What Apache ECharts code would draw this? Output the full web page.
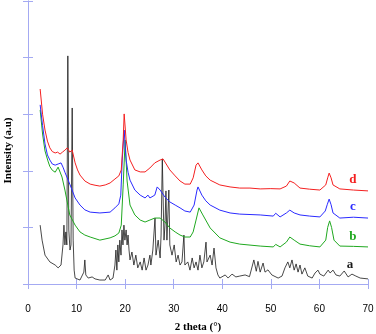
<!DOCTYPE html>
<html>
<head>
<meta charset="utf-8">
<script src="https://cdn.jsdelivr.net/npm/echarts@6/dist/echarts.min.js"></script>
<style>
  html, body { margin: 0; padding: 0; background: #fff; }
  #chart { width: 376px; height: 334px; }
</style>
</head>
<body>
<div id="chart"></div>
<script>
// XRD patterns, [2 theta, intensity (a.u.)]
var curveD = [[2.5,68.9],[3.0,60.0],[3.5,54.4],[4.0,50.5],[4.5,48.1],[5.0,46.8],[5.6,46.3],[6.1,46.6],[6.6,45.9],[7.1,46.6],[7.6,47.3],[8.1,48.1],[8.6,46.6],[9.1,47.3],[9.7,42.8],[10.2,40.3],[10.7,38.5],[11.7,36.4],[12.8,35.3],[13.8,34.9],[14.8,34.6],[15.9,35.0],[16.9,35.7],[17.9,37.1],[18.7,38.2],[19.2,40.3],[19.6,50.9],[19.8,60.1],[20.2,50.9],[20.6,46.5],[21.0,43.8],[22.0,40.3],[23.1,39.6],[24.1,39.6],[25.1,41.0],[26.1,42.8],[27.2,43.8],[27.8,44.2],[28.2,43.1],[29.2,40.3],[30.3,38.2],[31.3,36.4],[32.3,35.3],[33.4,35.3],[34.0,37.5],[34.6,42.0],[35.0,42.8],[35.8,40.3],[36.6,38.2],[37.5,36.7],[39.5,35.0],[41.6,34.3],[43.6,33.9],[45.7,33.9],[47.8,33.6],[50.0,33.7],[51.9,33.6],[53.2,34.6],[53.9,36.4],[54.8,35.7],[56.0,33.9],[58.0,33.5],[60.1,33.2],[61.3,35.0],[61.7,37.5],[62.0,39.2],[62.4,37.5],[62.8,35.0],[64.2,33.6],[67.0,33.2],[70.0,32.9]];

var curveC = [[2.5,63.3],[3.0,56.0],[3.5,49.5],[4.0,45.6],[4.5,43.8],[5.0,42.4],[5.6,42.0],[6.2,42.4],[6.8,42.8],[7.2,41.3],[7.6,39.5],[8.6,35.3],[9.7,30.4],[10.7,27.9],[11.7,26.2],[12.8,25.4],[14.8,25.1],[16.9,25.4],[17.9,26.9],[18.7,28.3],[19.1,31.4],[19.4,43.8],[19.8,54.4],[20.2,43.8],[20.6,39.5],[21.0,36.7],[22.0,33.2],[23.1,31.4],[24.1,30.4],[24.7,31.4],[25.1,30.4],[26.1,31.4],[26.6,34.3],[27.2,33.2],[28.2,30.7],[29.2,29.0],[30.3,27.9],[31.3,26.9],[32.3,25.8],[33.4,25.4],[34.2,27.9],[34.8,33.2],[35.0,34.3],[35.8,31.4],[36.6,29.4],[37.5,27.9],[39.5,26.1],[41.6,25.1],[43.6,24.7],[47.8,24.4],[50.5,24.0],[51.0,25.0],[51.9,23.7],[53.2,25.1],[53.9,26.1],[54.8,25.1],[56.0,24.4],[58.0,24.0],[60.1,23.7],[61.2,25.8],[61.6,28.0],[62.0,30.0],[62.4,28.0],[62.8,25.1],[64.2,23.3],[67.0,23.6],[70.0,23.3]];

var curveB = [[2.5,61.5],[3.0,53.0],[3.5,47.0],[4.1,43.5],[4.5,41.5],[5.0,40.2],[5.6,39.5],[6.2,41.3],[6.6,40.6],[7.0,37.8],[7.6,33.2],[8.2,27.9],[8.6,24.4],[9.7,20.8],[10.7,18.4],[11.7,17.3],[12.8,16.6],[14.8,15.5],[16.9,16.3],[17.9,17.0],[18.7,18.0],[19.2,20.8],[19.6,35.0],[20.0,50.9],[20.4,36.4],[21.0,27.9],[22.0,24.4],[23.1,22.6],[24.1,21.9],[25.1,22.6],[26.1,23.3],[27.2,23.3],[28.2,21.9],[29.2,19.8],[30.3,18.4],[31.3,17.3],[32.3,16.6],[33.4,16.6],[34.0,18.4],[34.6,22.6],[35.2,26.9],[36.0,24.4],[37.5,19.8],[39.5,16.3],[41.6,14.8],[43.6,14.1],[47.8,13.4],[50.5,13.1],[51.0,14.0],[51.9,13.1],[53.2,14.8],[53.9,16.6],[54.8,15.5],[56.0,14.1],[58.0,13.5],[60.1,13.1],[61.3,15.5],[61.7,20.0],[62.1,22.3],[62.5,20.0],[63.0,15.5],[64.2,13.4],[67.0,13.3],[70.0,13.1]];

var curveA = [[2.5,20.8],[2.9,15.5],[3.5,10.2],[4.5,7.8],[5.6,6.7],[6.2,5.7],[6.8,6.7],[7.2,13.8],[7.4,20.8],[7.6,13.8],[7.8,18.4],[8.0,13.8],[8.2,80.6],[8.4,19.1],[8.65,12.0],[8.85,13.8],[9.1,62.2],[9.3,15.5],[9.5,4.9],[9.7,2.1],[10.7,1.4],[11.5,4.2],[11.7,8.5],[11.9,3.2],[12.4,2.1],[13.2,2.5],[13.8,1.8],[14.8,1.4],[15.9,1.4],[16.5,3.2],[16.9,1.4],[17.5,2.1],[17.9,6.7],[18.1,12.0],[18.3,4.9],[18.5,13.8],[18.7,7.8],[18.9,15.5],[19.15,10.2],[19.35,19.1],[19.55,13.8],[19.75,20.8],[19.95,15.5],[20.2,19.1],[20.4,13.8],[20.6,17.3],[20.8,12.0],[21.0,8.5],[21.4,11.3],[21.8,6.7],[22.2,10.2],[22.6,5.7],[23.1,7.8],[23.5,4.9],[23.9,9.2],[24.3,4.9],[24.7,6.7],[25.1,10.2],[25.3,6.7],[25.7,12.0],[26.15,23.3],[26.35,10.2],[26.8,15.5],[27.2,9.2],[27.4,17.3],[27.65,44.2],[28.0,15.5],[28.2,20.8],[28.4,32.9],[28.6,15.5],[28.8,24.4],[29.0,33.2],[29.2,13.8],[29.65,10.2],[30.1,13.8],[30.5,7.8],[30.9,10.2],[31.3,6.7],[31.7,7.8],[32.1,17.3],[32.3,6.7],[32.9,7.8],[33.35,4.9],[33.8,9.2],[34.2,5.7],[34.6,7.8],[35.0,4.9],[35.4,10.2],[35.8,5.7],[36.2,7.8],[36.65,14.8],[36.85,7.8],[37.5,10.2],[37.9,6.7],[38.3,12.7],[38.7,5.7],[39.1,3.2],[39.5,2.1],[40.6,3.2],[41.2,2.1],[42.0,3.5],[42.8,2.5],[43.6,2.8],[44.7,3.2],[45.6,2.6],[46.5,8.5],[47.0,4.5],[47.35,8.0],[47.8,4.2],[48.4,7.4],[48.8,4.2],[49.4,5.0],[50.2,3.2],[51.5,2.1],[52.3,2.8],[52.9,5.7],[53.5,7.8],[53.9,5.7],[54.35,8.5],[54.8,4.9],[55.2,7.1],[55.6,4.2],[56.0,6.7],[56.4,3.5],[57.0,5.7],[57.6,2.8],[58.5,2.1],[59.1,3.9],[59.7,4.9],[60.1,3.5],[60.9,2.8],[61.8,4.9],[62.2,3.9],[62.8,4.9],[63.4,3.2],[64.2,2.8],[65.1,4.6],[65.9,2.5],[66.7,3.5],[67.5,2.8],[68.4,2.1],[70.0,1.8]];

var sampleNames = ['a', 'b', 'c', 'd'];
var xTicks = [0, 10, 20, 30, 40, 50, 60, 70];

var chart = echarts.init(document.getElementById('chart'));

var axisColor = '#a4aaf2';
var serif = '"Liberation Serif", "DejaVu Serif", serif';

function curve(name, data, color, width, tagAt) {
  return {
    name: name,
    type: 'line',
    data: data,
    showSymbol: false,
    silent: true,
    lineStyle: { color: color, width: width },
    markPoint: {
      symbolSize: 0,
      silent: true,
      label: {
        show: true,
        position: 'inside',
        formatter: name,
        color: color,
        fontFamily: serif,
        fontWeight: 'bold',
        fontSize: 13
      },
      data: [{ coord: tagAt }]
    }
  }
}

chart.setOption({
  animation: false,
  grid: { left: 28, right: 8, top: 1, bottom: 50, outerBoundsMode: 'none' },
  xAxis: [{
    type: 'value',
    min: xTicks[0],
    max: xTicks[xTicks.length - 1],
    interval: 10,
    name: '2 theta (°)',
    nameLocation: 'middle',
    nameGap: 38,
    nameTextStyle: { fontFamily: serif, fontWeight: 'bold', fontSize: 11, color: '#000' },
    axisLine: { show: true, lineStyle: { color: axisColor, width: 1 } },
    axisTick: { show: true, inside: true, length: 5, lineStyle: { color: axisColor } },
    axisLabel: { margin: 20, fontFamily: '"Liberation Sans", Arial, sans-serif', fontSize: 10, color: '#000' },
    splitLine: { show: false }
  }, {
    type: 'value',
    position: 'top',
    min: 0,
    max: 70,
    interval: 10,
    axisLine: { show: true, lineStyle: { color: axisColor, width: 1 } },
    axisTick: { show: true, inside: true, length: 5, lineStyle: { color: axisColor } },
    axisLabel: { show: false },
    splitLine: { show: false }
  }],
  yAxis: [{
    type: 'value',
    min: 0,
    max: 100,
    interval: 20,
    name: 'Intensity (a.u)',
    nameLocation: 'middle',
    nameGap: 14,
    nameTextStyle: { fontFamily: serif, fontWeight: 'bold', fontSize: 11, color: '#000', padding: [0, 16, 0, 0] },
    axisLine: { show: true, lineStyle: { color: axisColor, width: 1 } },
    axisTick: { show: true, inside: true, length: 5, lineStyle: { color: axisColor } },
    axisLabel: { show: false },
    splitLine: { show: false }
  }, {
    type: 'value',
    position: 'right',
    min: 0,
    max: 100,
    interval: 20,
    axisLine: { show: true, lineStyle: { color: axisColor, width: 1 } },
    axisTick: { show: true, inside: true, length: 5, lineStyle: { color: axisColor } },
    axisLabel: { show: false },
    splitLine: { show: false }
  }],
  series: [
    curve(sampleNames[0], curveA, '#1a1a1a', 0.8, [66.3, 6.7]),
    curve(sampleNames[1], curveB, '#1fa81f', 1, [66.9, 16.6]),
    curve(sampleNames[2], curveC, '#2a2aff', 1, [66.9, 27.2]),
    curve(sampleNames[3], curveD, '#f42020', 1, [66.9, 36.7])
  ]
});
</script>
</body>
</html>
